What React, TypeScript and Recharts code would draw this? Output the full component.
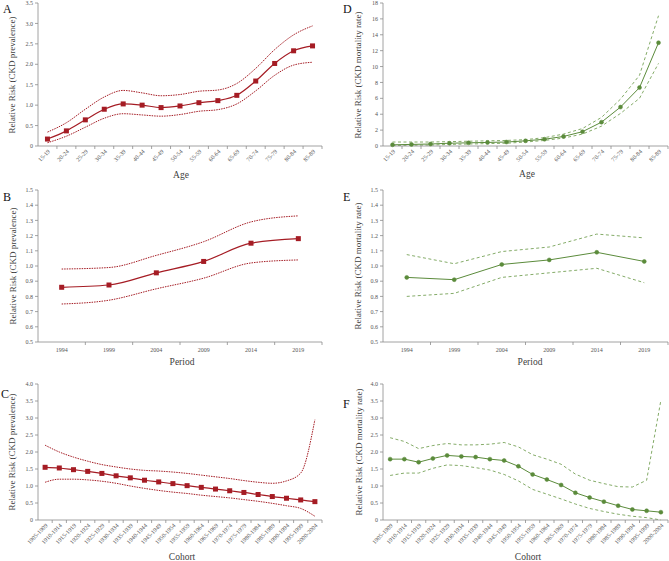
import React from 'react';
import { LineChart, Line, XAxis, YAxis, Label } from 'recharts';

const ageCats = ['15-19', '20-24', '25-29', '30-34', '35-39', '40-44', '45-49', '50-54', '55-59', '60-64', '65-69', '70-74', '75-79', '80-84', '85-89'];
const periodCats = ['1994', '1999', '2004', '2009', '2014', '2019'];
const cohortCats = ['1905-1909', '1910-1914', '1915-1919', '1920-1924', '1925-1929', '1930-1934', '1935-1939', '1940-1944', '1945-1949', '1950-1954', '1955-1959', '1960-1964', '1965-1969', '1970-1974', '1975-1979', '1980-1984', '1985-1989', '1990-1994', '1995-1999', '2000-2004'];

// prevalence (red)
const prevAgeRR = [0.17, 0.37, 0.64, 0.90, 1.03, 1.00, 0.94, 0.98, 1.06, 1.11, 1.24, 1.59, 2.02, 2.33, 2.45];
const prevAgeHi = [0.34, 0.57, 0.90, 1.20, 1.36, 1.30, 1.23, 1.26, 1.34, 1.37, 1.53, 1.90, 2.36, 2.72, 2.94];
const prevAgeLo = [0.08, 0.24, 0.46, 0.68, 0.79, 0.76, 0.73, 0.77, 0.85, 0.89, 1.03, 1.35, 1.73, 1.98, 2.05];

const prevPeriodRR = [0.86, 0.875, 0.955, 1.03, 1.15, 1.18];
const prevPeriodHi = [0.98, 0.99, 1.07, 1.16, 1.29, 1.33];
const prevPeriodLo = [0.75, 0.775, 0.85, 0.92, 1.02, 1.04];

const prevCohortRR = [1.55, 1.53, 1.48, 1.43, 1.37, 1.30, 1.24, 1.17, 1.12, 1.07, 1.01, 0.96, 0.91, 0.86, 0.81, 0.75, 0.69, 0.64, 0.59, 0.54];
const prevCohortHi = [2.2, 2.0, 1.85, 1.73, 1.63, 1.56, 1.5, 1.46, 1.44, 1.41, 1.37, 1.32, 1.27, 1.22, 1.16, 1.11, 1.08, 1.15, 1.38, 2.95];
const prevCohortLo = [1.11, 1.2, 1.2, 1.18, 1.14, 1.08, 1.0, 0.93, 0.87, 0.82, 0.78, 0.73, 0.69, 0.65, 0.6, 0.55, 0.49, 0.42, 0.34, 0.11];

// mortality (green)
const mortAgeRR = [0.15, 0.2, 0.25, 0.35, 0.4, 0.45, 0.5, 0.65, 0.85, 1.2, 1.8, 3.0, 4.9, 7.35, 13.0];
const mortAgeHi = [0.5, 0.5, 0.5, 0.55, 0.6, 0.65, 0.7, 0.8, 1.05, 1.5, 2.2, 3.6, 5.9, 8.9, 16.4];
const mortAgeLo = [0.05, 0.1, 0.12, 0.2, 0.25, 0.3, 0.35, 0.5, 0.7, 1.0, 1.5, 2.5, 4.1, 6.0, 10.4];

const mortPeriodRR = [0.925, 0.91, 1.01, 1.04, 1.09, 1.03];
const mortPeriodHi = [1.075, 1.015, 1.095, 1.125, 1.21, 1.185];
const mortPeriodLo = [0.80, 0.82, 0.925, 0.955, 0.985, 0.89];

const mortCohortRR = [1.79, 1.79, 1.7, 1.81, 1.9, 1.87, 1.85, 1.79, 1.75, 1.58, 1.34, 1.19, 1.03, 0.8, 0.66, 0.54, 0.42, 0.31, 0.27, 0.23];
const mortCohortHi = [2.42, 2.31, 2.1, 2.19, 2.25, 2.21, 2.21, 2.23, 2.28, 2.15, 1.92, 1.79, 1.64, 1.35, 1.17, 1.07, 0.98, 0.97, 1.17, 3.52];
const mortCohortLo = [1.31, 1.38, 1.38, 1.52, 1.62, 1.6, 1.54, 1.47, 1.34, 1.15, 0.9, 0.76, 0.62, 0.47, 0.34, 0.25, 0.17, 0.11, 0.07, 0.0];

const RED = '#a51c24';
const GREEN = '#5b8b3b';
const GREEN_CI = '#76a257';
const AXIS = '#8c8c8c';
const TICK_TXT = '#555555';
const SERIF = '"Liberation Serif", "DejaVu Serif", serif';

const rows = (cats: string[], rr: number[], lo: number[], hi: number[]) =>
  cats.map((c, i) => ({ cat: c, rr: rr[i], lo: lo[i], hi: hi[i] }));

const XTick = (props: any) => {
  const { x, payload, bw, axisY, rotate } = props;
  return (
    <g>
      <line x1={x + bw / 2} x2={x + bw / 2} y1={axisY} y2={axisY + 3} stroke={AXIS} strokeWidth={0.8} />
      {rotate ? (
        <text transform={`translate(${x + 3},${axisY + 6}) rotate(-45)`} textAnchor="end" fontSize={6} fill={TICK_TXT} fontFamily={SERIF}>
          {payload.value}
        </text>
      ) : (
        <text x={x} y={axisY + 10} textAnchor="middle" fontSize={6} fill={TICK_TXT} fontFamily={SERIF}>
          {payload.value}
        </text>
      )}
    </g>
  );
};

const Square = (p: any) => {
  if (p.cx == null || p.cy == null) return <g key={p.index} />;
  return <rect key={p.index} x={p.cx - 2.5} y={p.cy - 2.5} width={5} height={5} fill={RED} />;
};

interface PanelProps {
  data: any[];
  left: number; top: number; width: number; height: number;
  plotLeft: number; plotRight: number; plotTop: number; plotBottom: number;
  domain: [number, number]; ticks: number[]; fmt: (v: number) => string;
  red: boolean; curve: 'monotone' | 'linear'; rotate: boolean;
  letter: string; letterPos: [number, number];
  xTitle: string; xTitlePos: [number, number];
  yTitle: string; yTitlePos: [number, number];
}

const Panel: React.FC<PanelProps> = (p) => {
  const yw = p.plotLeft - p.left;
  const mr = p.left + p.width - p.plotRight;
  const mt = p.plotTop - p.top;
  const xh = p.top + p.height - p.plotBottom;
  const n = p.data.length;
  const bw = (p.plotRight - p.plotLeft) / n;
  const axisY = p.plotBottom - p.top;
  const lx = (v: number) => v - p.left;
  const ly = (v: number) => v - p.top;
  const main = p.red ? RED : GREEN;
  const ci = p.red ? RED : GREEN_CI;
  return (
    <div style={{ position: 'absolute', left: p.left, top: p.top }}>
      <LineChart width={p.width} height={p.height} data={p.data} margin={{ top: mt, right: mr, left: 0, bottom: 0 }}>
        <XAxis
          dataKey="cat"
          interval={0}
          height={xh}
          padding={{ left: bw / 2, right: bw / 2 }}
          tickLine={false}
          axisLine={{ stroke: AXIS, strokeWidth: 0.8 }}
          tick={(t: any) => <XTick {...t} bw={bw} axisY={axisY} rotate={p.rotate} />}
        >
          <Label
            content={() => (
              <text x={lx(p.xTitlePos[0])} y={ly(p.xTitlePos[1])} textAnchor="middle" fontSize={9.5} fill="#404040" fontFamily={SERIF}>
                {p.xTitle}
              </text>
            )}
          />
        </XAxis>
        <YAxis
          type="number"
          width={yw}
          domain={p.domain}
          ticks={p.ticks}
          interval={0}
          tickFormatter={p.fmt}
          tickSize={3}
          tickMargin={2}
          tick={{ fontSize: 6, fill: TICK_TXT, fontFamily: SERIF }}
          tickLine={{ stroke: AXIS, strokeWidth: 0.8 }}
          axisLine={{ stroke: AXIS, strokeWidth: 0.8 }}
        >
          <Label
            content={() => (
              <text
                transform={`translate(${lx(p.yTitlePos[0])},${ly(p.yTitlePos[1])}) rotate(-90)`}
                textAnchor="middle"
                fontSize={9}
                fill="#404040"
                fontFamily={SERIF}
              >
                {p.yTitle}
              </text>
            )}
          />
          <Label
            content={() => (
              <text x={lx(p.letterPos[0])} y={ly(p.letterPos[1])} fontSize={12} fill="#111" fontFamily={SERIF}>
                {p.letter}
              </text>
            )}
          />
        </YAxis>
        <Line dataKey="hi" type={p.curve} stroke={ci} strokeWidth={p.red ? 1 : 0.9} strokeDasharray={p.red ? '1.5 1' : '3 2.5'} dot={false} isAnimationActive={false} />
        <Line dataKey="lo" type={p.curve} stroke={ci} strokeWidth={p.red ? 1 : 0.9} strokeDasharray={p.red ? '1.5 1' : '3 2.5'} dot={false} isAnimationActive={false} />
        <Line
          dataKey="rr"
          type={p.curve}
          stroke={main}
          strokeWidth={p.red ? 1.2 : 1}
          dot={p.red ? (d: any) => <Square key={d.index} {...d} /> : { r: 2, fill: GREEN, stroke: GREEN, strokeWidth: 0.5 }}
          isAnimationActive={false}
        />
      </LineChart>
    </div>
  );
};

const fmt1 = (v: number) => (v === 0 ? '0' : v.toFixed(1));
const fmt0 = (v: number) => String(v);

const App: React.FC = () => {
  const L = { left: 0, width: 334, plotLeft: 38, plotRight: 322 };
  const R = { left: 334, width: 335, plotLeft: 383, plotRight: 668 };
  const r1 = { top: 0, height: 190, plotTop: 3, plotBottom: 146 };
  const r2 = { top: 182, height: 188, plotTop: 190, plotBottom: 342 };
  const r3 = { top: 372, height: 189, plotTop: 384, plotBottom: 520 };
  const prevT = 'Relative Risk (CKD prevalence)';
  const mortT = 'Relative Risk (CKD mortality rate)';
  return (
    <div style={{ position: 'absolute', left: 0, top: 0, width: 669, height: 561, background: '#fff', overflow: 'hidden' }}>
      <Panel {...L} {...r1} data={rows(ageCats, prevAgeRR, prevAgeLo, prevAgeHi)} domain={[0, 3.5]} ticks={[0, 0.5, 1, 1.5, 2, 2.5, 3, 3.5]} fmt={fmt1}
        red curve="monotone" rotate letter="A" letterPos={[3, 13]} xTitle="Age" xTitlePos={[181, 178]} yTitle={prevT} yTitlePos={[15, 75]} />
      <Panel {...R} {...r1} data={rows(ageCats, mortAgeRR, mortAgeLo, mortAgeHi)} domain={[0, 18]} ticks={[0, 2, 4, 6, 8, 10, 12, 14, 16, 18]} fmt={fmt0}
        red={false} curve="linear" rotate letter="D" letterPos={[343, 13]} xTitle="Age" xTitlePos={[527, 177]} yTitle={mortT} yTitlePos={[361, 75]} />
      <Panel {...L} {...r2} data={rows(periodCats, prevPeriodRR, prevPeriodLo, prevPeriodHi)} domain={[0.5, 1.5]} ticks={[0.5, 0.6, 0.7, 0.8, 0.9, 1, 1.1, 1.2, 1.3, 1.4, 1.5]} fmt={fmt1}
        red curve="monotone" rotate={false} letter="B" letterPos={[3, 201]} xTitle="Period" xTitlePos={[182, 365]} yTitle={prevT} yTitlePos={[16, 266]} />
      <Panel {...R} {...r2} data={rows(periodCats, mortPeriodRR, mortPeriodLo, mortPeriodHi)} domain={[0.5, 1.5]} ticks={[0.5, 0.6, 0.7, 0.8, 0.9, 1, 1.1, 1.2, 1.3, 1.4, 1.5]} fmt={fmt1}
        red={false} curve="linear" rotate={false} letter="E" letterPos={[343, 201]} xTitle="Period" xTitlePos={[530, 365]} yTitle={mortT} yTitlePos={[361, 266]} />
      <Panel {...L} {...r3} data={rows(cohortCats, prevCohortRR, prevCohortLo, prevCohortHi)} domain={[0, 4]} ticks={[0, 0.5, 1, 1.5, 2, 2.5, 3, 3.5, 4]} fmt={fmt1}
        red curve="monotone" rotate letter="C" letterPos={[1, 398]} xTitle="Cohort" xTitlePos={[182, 560]} yTitle={prevT} yTitlePos={[15, 452]} />
      <Panel {...R} {...r3} data={rows(cohortCats, mortCohortRR, mortCohortLo, mortCohortHi)} domain={[0, 4]} ticks={[0, 0.5, 1, 1.5, 2, 2.5, 3, 3.5, 4]} fmt={fmt1}
        red={false} curve="linear" rotate letter="F" letterPos={[343, 408]} xTitle="Cohort" xTitlePos={[528, 560]} yTitle={mortT} yTitlePos={[362, 452]} />
    </div>
  );
};

export default App;
